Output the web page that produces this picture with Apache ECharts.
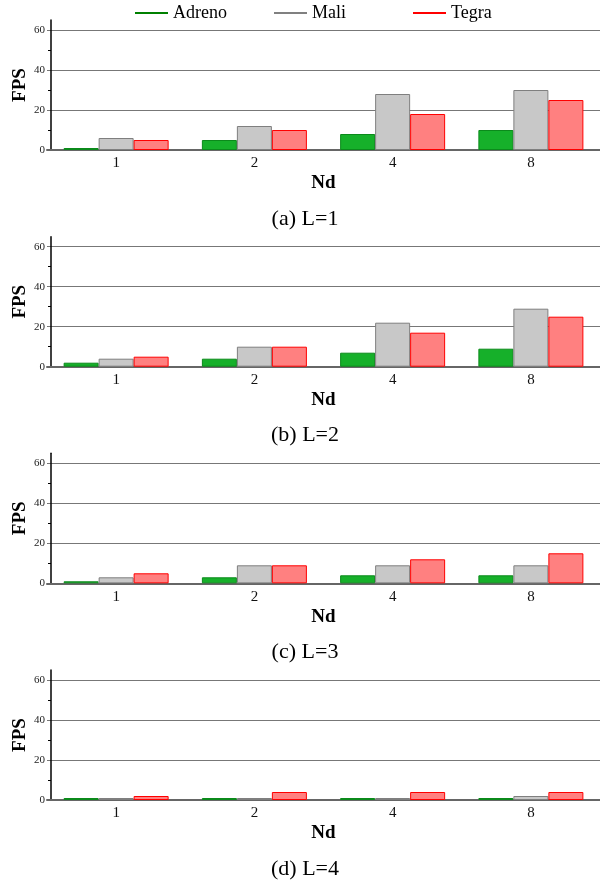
<!DOCTYPE html>
<html>
<head>
<meta charset="utf-8">
<script src="https://cdn.jsdelivr.net/npm/echarts@6.0.0/dist/echarts.min.js"></script>
<style>
  html, body { margin: 0; padding: 0; background: #fff; }
  #chart { width: 600px; height: 881px; }
</style>
</head>
<body>
<div id="chart"></div>
<script>
// x categories (Nd)
const ndLabels = ["1", "2", "4", "8"];
const seriesNames = ["Adreno", "Mali", "Tegra"];
const captions = ["(a) L=1", "(b) L=2", "(c) L=3", "(d) L=4"];

// FPS per panel
const adrenoL1 = [1, 5, 8, 10];
const maliL1 = [6, 12, 28, 30];
const tegraL1 = [5, 10, 18, 25];

const adrenoL2 = [2, 4, 7, 9];
const maliL2 = [4, 10, 22, 29];
const tegraL2 = [5, 10, 17, 25];

const adrenoL3 = [1, 3, 4, 4];
const maliL3 = [3, 9, 9, 9];
const tegraL3 = [5, 9, 12, 15];

const adrenoL4 = [1, 1, 1, 1];
const maliL4 = [1, 1, 1, 2];
const tegraL4 = [2, 4, 4, 4];

const yTicks = [0, 20, 40, 60];

const panels = [
  [adrenoL1, maliL1, tegraL1],
  [adrenoL2, maliL2, tegraL2],
  [adrenoL3, maliL3, tegraL3],
  [adrenoL4, maliL4, tegraL4],
];

const serif = "'Liberation Serif', 'Times New Roman', serif";
const gridTops = [20, 236.7, 453.3, 670];
const plotH = 130;

const fills = ["#16b02a", "#c8c8c8", "#ff8080"];
const borders = ["#0b8a1b", "#7f7f7f", "#ff0000"];
const legendColors = ["#008000", "#808080", "#ff0000"];
const legendLefts = [135, 274, 413];

const chart = echarts.init(document.getElementById("chart"));

const grid = [], xAxis = [], yAxis = [], series = [], title = [];

panels.forEach((vals, i) => {
  grid.push({ left: 47, right: 0, top: gridTops[i], height: plotH, outerBoundsMode: "none" });
  xAxis.push({
    gridIndex: i,
    type: "category",
    data: ndLabels,
    name: "Nd",
    nameLocation: "middle",
    nameGap: 24,
    nameMoveOverlap: false,
    nameTextStyle: { fontFamily: serif, fontWeight: "bold", fontSize: 19, color: "#000" },
    axisLine: { lineStyle: { color: "#666", width: 2 } },
    axisTick: { show: false },
    axisLabel: { fontFamily: serif, fontSize: 15, color: "#111", margin: 6 },
  });
  yAxis.push({
    gridIndex: i,
    type: "value",
    min: yTicks[0],
    max: 65,
    interval: yTicks[1] - yTicks[0],
    offset: -4,
    name: "FPS",
    nameLocation: "middle",
    nameGap: 21,
    nameMoveOverlap: false,
    nameTextStyle: { fontFamily: serif, fontWeight: "bold", fontSize: 19, color: "#000" },
    axisLine: { show: true, lineStyle: { color: "#000", width: 1.5 } },
    axisTick: { show: false },
    minorTick: { show: true, splitNumber: 2, length: 3, lineStyle: { color: "#000" } },
    axisLabel: { fontFamily: serif, fontSize: 11, color: "#222", margin: 6, showMaxLabel: false },
    splitLine: { show: true, showMaxLine: false, lineStyle: { color: "#777", width: 1.2 } },
  });
  vals.forEach((data, k) => {
    series.push({
      name: seriesNames[k],
      type: "bar",
      xAxisIndex: i,
      yAxisIndex: i,
      barWidth: 35,
      barGap: "0%",
      itemStyle: { color: fills[k], borderColor: borders[k], borderWidth: 1 },
      data: data,
    });
  });
  title.push({
    text: captions[i],
    left: 305,
    textAlign: "center",
    top: gridTops[i] + plotH + 58,
    padding: 0,
    textStyle: { fontFamily: serif, fontWeight: "normal", fontSize: 22, color: "#000" },
  });
});

const legend = seriesNames.map((n, k) => ({
  left: legendLefts[k],
  top: 4,
  padding: 0,
  icon: "rect",
  itemWidth: 33,
  itemHeight: 2,
  data: [{ name: n, itemStyle: { color: legendColors[k], borderWidth: 0 } }],
  textStyle: { fontFamily: serif, fontSize: 18, color: "#000" },
}));

chart.setOption({
  animation: false,
  backgroundColor: "#fff",
  title,
  legend,
  grid,
  xAxis,
  yAxis,
  series,
});
</script>
</body>
</html>
